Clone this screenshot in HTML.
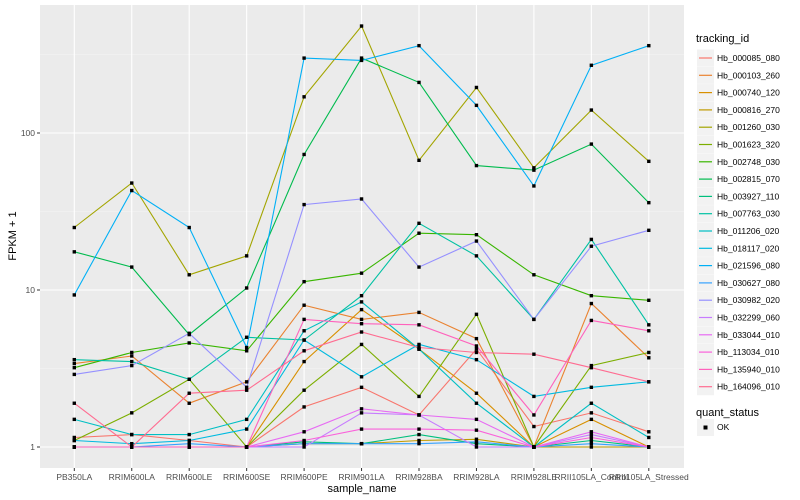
<!DOCTYPE html>
<html><head><meta charset="utf-8"><style>
body{margin:0;background:#fff;}
svg{font-family:"Liberation Sans",sans-serif;display:block;}
</style></head><body>
<svg id="chart" width="800" height="500"></svg>
<script>
const categories=["PB350LA","RRIM600LA","RRIM600LE","RRIM600SE","RRIM600PE","RRIM901LA","RRIM928BA","RRIM928LA","RRIM928LE","RRII105LA_Control","RRII105LA_Stressed"];
const seriesNames=["Hb_000085_080","Hb_000103_260","Hb_000740_120","Hb_000816_270","Hb_001260_030","Hb_001623_320","Hb_002748_030","Hb_002815_070","Hb_003927_110","Hb_007763_030","Hb_011206_020","Hb_018117_020","Hb_021596_080","Hb_030627_080","Hb_030982_020","Hb_032299_060","Hb_033044_010","Hb_113034_010","Hb_135940_010","Hb_164096_010"];
const seriesColors=["#F8766D","#EA8331","#D89000","#C09B00","#A3A500","#7CAE00","#39B600","#00BB4E","#00BF7D","#00C1A3","#00BFC4","#00BAE0","#00B0F6","#35A2FF","#9590FF","#C77CFF","#E76BF3","#FA62DB","#FF62BC","#FF6C91"];
const s000085=[1.15,1.2,1.1,1.0,1.8,2.4,1.6,4.2,1.35,1.65,1.25];
const s000103=[3.4,3.8,1.9,2.6,8,6.5,7.2,4.9,1.0,8.2,3.7];
const s000740=[1.0,1.0,1.0,1.0,3.5,7.5,4.2,2.2,1.0,1.5,1.0];
const s000816=[1.0,1.0,1.0,1.0,1.05,1.05,1.1,1.12,1.0,1.0,1.0];
const s001260=[25,48,12.5,16.5,170,480,67,195,60,140,66];
const s001623=[1.1,1.65,2.7,1.0,2.3,4.5,2.1,7,1.0,3.3,4.0];
const s002748=[3.2,4.0,4.6,4.1,11.3,12.8,23,22.5,12.5,9.2,8.6];
const s002815=[17.5,14,5.2,10.3,73,300,210,62,58,85,36];
const s003927=[1.0,1.0,1.0,1.0,1.08,1.05,1.2,1.05,1.0,1.1,1.0];
const s007763=[3.6,3.5,2.7,5,4.8,9.2,26.6,16.5,6.5,21,6];
const s011206=[1.5,1.2,1.2,1.5,5.5,8.4,4.2,1.9,1.0,1.9,1.15];
const s018117=[1.1,1.05,1.1,1.3,4.8,2.8,4.5,3.6,2.1,2.4,2.6];
const s021596=[9.3,43,25,4.3,300,290,360,150,46,270,360];
const s030627=[1.0,1.0,1.05,1.0,1.05,1.05,1.05,1.08,1.0,1.05,1.0];
const s030982=[2.9,3.3,5.3,2.4,35,38,14,20.5,6.5,19,24];
const s032299=[1.0,1.0,1.0,1.0,1.0,1.65,1.6,1.0,1.0,1.2,1.0];
const s033044=[1.0,1.0,1.0,1.0,1.25,1.75,1.6,1.5,1.0,1.25,1.0];
const s113034=[1.0,1.0,1.0,1.0,1.1,1.3,1.3,1.28,1.0,1.15,1.0];
const s135940=[1.0,1.0,1.0,1.0,6.5,6.1,6,4.4,1.6,6.4,5.5];
const s164096=[1.9,1.0,2.2,2.3,4.1,5.4,4.3,4.0,3.9,3.2,2.6];
const seriesValues=[s000085,s000103,s000740,s000816,s001260,s001623,s002748,s002815,s003927,s007763,s011206,s018117,s021596,s030627,s030982,s032299,s033044,s113034,s135940,s164096];
const yTicks=[1,10,100];
const yTickLabels=["1","10","100"];

const NS="http://www.w3.org/2000/svg";
const svg=document.getElementById("chart");
function el(tag,attrs,parent){const e=document.createElementNS(NS,tag);for(const k in attrs)e.setAttribute(k,attrs[k]);(parent||svg).appendChild(e);return e;}
const PL=40,PR=684,PT=5,PB=468;
const step=57.45, x0=74.3;
function xScale(i){return x0+i*step;}
function yScale(v){return 447-157*Math.log10(v);}

const panel=el("rect",{x:PL,y:PT,width:PR-PL,height:PB-PT,fill:"#EBEBEB"});


[0.5,1.5,2.5].forEach(l=>{const ln=el("line",{x1:PL,x2:PR,y1:yScale(Math.pow(10,l)),y2:yScale(Math.pow(10,l)),stroke:"#F5F5F5","stroke-width":0.6});

});
yTicks.forEach((t,i)=>{const y=yScale(t);
const g=el("line",{x1:PL,x2:PR,y1:y,y2:y,stroke:"#fff","stroke-width":1.1});


el("line",{x1:PL-3,x2:PL,y1:y,y2:y,stroke:"#333","stroke-width":1});
const tx=el("text",{x:PL-5,y:y+3,"text-anchor":"end","font-size":"8.5",fill:"#4D4D4D"});tx.textContent=yTickLabels[i];

});
categories.forEach((c,i)=>{const x=xScale(i);
const g=el("line",{x1:x,x2:x,y1:PT,y2:PB,stroke:"#fff","stroke-width":1.1});


el("line",{x1:x,x2:x,y1:PB,y2:PB+3,stroke:"#333","stroke-width":1});
const tx=el("text",{x:x,y:PB+12,"text-anchor":"middle","font-size":"8.5",fill:"#4D4D4D"});tx.textContent=c;

});
seriesValues.forEach((vals,s)=>{
const d=vals.map((v,i)=>(i?"L":"M")+xScale(i).toFixed(1)+","+yScale(v).toFixed(1)).join(" ");
const p=el("path",{d:d,fill:"none",stroke:seriesColors[s],"stroke-width":1.1});

});
seriesValues.forEach((vals,s)=>{vals.forEach((v,i)=>{
const r=el("rect",{x:xScale(i)-1.7,y:yScale(v)-1.7,width:3.4,height:3.4,fill:"#000"});

});});
const xt=el("text",{x:(PL+PR)/2,y:492,"text-anchor":"middle","font-size":"11",fill:"#000"});xt.textContent="sample_name";


const yt=el("text",{x:0,y:0,"text-anchor":"middle","font-size":"11",fill:"#000",transform:"translate(16,236) rotate(-90)"});yt.textContent="FPKM + 1";


const lt=el("text",{x:696,y:42,"font-size":"11",fill:"#000"});lt.textContent="tracking_id";


seriesNames.forEach((n,i)=>{const cy=58+i*17.3;
const g=el("g",{});


el("rect",{x:697,y:cy-8.5,width:17,height:17,fill:"#F2F2F2"},g);
el("line",{x1:699,x2:712,y1:cy,y2:cy,stroke:seriesColors[i],"stroke-width":1.2},g);
const t=el("text",{x:717,y:cy+3,"font-size":"8.5",fill:"#000"},g);t.textContent=n;});
const qt=el("text",{x:696,y:416,"font-size":"11",fill:"#000"});qt.textContent="quant_status";


const qg=el("g",{});


el("rect",{x:697,y:419,width:17,height:17,fill:"#F2F2F2"},qg);
el("rect",{x:703.5,y:425.5,width:4,height:4,fill:"#000"},qg);
const ok=el("text",{x:717,y:430,"font-size":"8.5",fill:"#000"},qg);ok.textContent="OK";
</script>
</body></html>
